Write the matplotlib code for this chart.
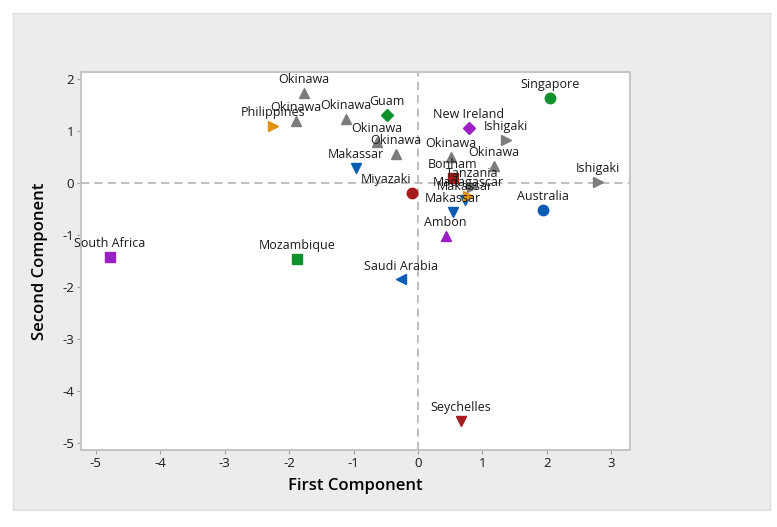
#!/usr/bin/env python3

import matplotlib
matplotlib.use("Agg")
import matplotlib.pyplot as plt
from matplotlib.patches import Rectangle


# score values
SITES = [
	"South Africa", "Mozambique", "Saudi Arabia", "Seychelles", "Ambon",
	"Makassar", "Makassar", "Makassar", "Madagascar", "Tanzania", "Bonham",
	"Miyazaki", "Okinawa", "Okinawa", "Okinawa", "Okinawa", "Okinawa",
	"Okinawa", "Okinawa", "Philippines", "Guam", "New Ireland", "Ishigaki",
	"Ishigaki", "Singapore", "Australia",
]
PC1 = [
	-4.78, -1.88, -0.26, 0.67, 0.43,
	0.54, 0.73, -0.96, 0.78, 0.84, 0.54,
	-0.09, -1.77, -1.89, -1.12, -0.64, -0.34,
	0.51, 1.18, -2.25, -0.48, 0.79, 1.37,
	2.80, 2.05, 1.94,
]
PC2 = [
	-1.42, -1.46, -1.86, -4.58, -1.03,
	-0.57, -0.33, 0.29, -0.25, -0.08, 0.10,
	-0.19, 1.72, 1.19, 1.23, 0.79, 0.56,
	0.50, 0.33, 1.09, 1.30, 1.05, 0.82,
	0.02, 1.63, -0.52,
]

GREY = "#7c7c7c"
STYLE = {
	"South Africa": ("s", "#9a1fc4"),
	"Mozambique": ("s", "#11912e"),
	"Saudi Arabia": ("<", "#0a5cb4"),
	"Seychelles": ("v", "#a51b1b"),
	"Ambon": ("^", "#9a1fc4"),
	"Makassar": ("v", "#0a5cb4"),
	"Madagascar": (">", "#e0900f"),
	"Tanzania": (">", GREY),
	"Bonham": ("s", "#a51b1b"),
	"Miyazaki": ("o", "#a51b1b"),
	"Okinawa": ("^", GREY),
	"Philippines": (">", "#e0900f"),
	"Guam": ("D", "#11912e"),
	"New Ireland": ("D", "#9a1fc4"),
	"Ishigaki": (">", GREY),
	"Singapore": ("o", "#11912e"),
	"Australia": ("o", "#0a5cb4"),
}

# label nudges (points) where the reference label is not centred
LABEL_SHIFT = {"Miyazaki": -19}


def main() -> None:
	plt.rcParams["font.family"] = ["Open Sans", "DejaVu Sans"]
	plt.rcParams["axes.unicode_minus"] = False

	fig = plt.figure(figsize=(7.77, 5.27), dpi=100, facecolor="white")
	panel = Rectangle(
		(13 / 777, 1 - 510 / 527), (770 - 13) / 777, (510 - 13) / 527,
		transform=fig.transFigure, facecolor="#ececec", edgecolor="#dedede",
		linewidth=1.0, zorder=-10,
	)
	fig.add_artist(panel)

	ax = fig.add_axes([81 / 777, 1 - 450 / 527, (630 - 81) / 777, (450 - 72) / 527])
	ax.set_zorder(1)
	ax.set_facecolor("white")
	ax.set_xlim(-5.23, 3.29)
	ax.set_ylim(-5.14, 2.13)

	ax.axhline(0, color="#b4b4b4", lw=1.2, ls=(0, (5, 3)), zorder=1)
	ax.axvline(0, color="#b4b4b4", lw=1.2, ls=(0, (5, 3)), zorder=1)

	for site, x, y in zip(SITES, PC1, PC2):
		marker, color = STYLE[site]
		ms = 6.5 if marker in ("s", "D") else 7.5
		ax.plot(x, y, marker=marker, color=color, ms=ms, ls="none", zorder=3)
		ax.annotate(site, (x, y), xytext=(LABEL_SHIFT.get(site, 0), 5), textcoords="offset points",
			ha="center", va="bottom", fontsize=9, color="#1a1a1a", zorder=4)

	ax.set_xticks(range(-5, 4))
	ax.set_yticks(range(-5, 3))
	ax.tick_params(length=3, width=0.8, color="#a0a0a0", labelsize=9.5, labelcolor="#1a1a1a", pad=2)
	for spine in ax.spines.values():
		spine.set_color("#c4c4c4")
		spine.set_linewidth(1.4)

	ax.set_xlabel("First Component", fontsize=12, fontweight="semibold", labelpad=6)
	ax.set_ylabel("Second Component", fontsize=12, fontweight="semibold", labelpad=10)

	fig.savefig("out.png", dpi=100, facecolor=fig.get_facecolor())
	plt.close("all")


if __name__ == "__main__":
	main()
